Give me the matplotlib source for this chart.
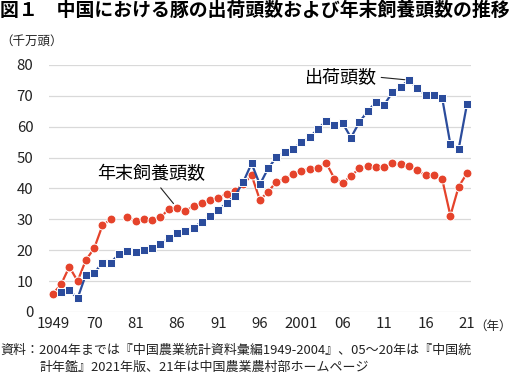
import numpy as np
import matplotlib
matplotlib.use("Agg")
import matplotlib.pyplot as plt

plt.rcParams['font.family'] = ['Noto Sans CJK JP', 'DejaVu Sans']

# カテゴリ（年）
years = ['1949', '1952', '1957', '1962', '1965', '1970', '1975', '1978', '1979', '1980'] + \
        [str(y) for y in range(1981, 2022)]

# 出荷頭数（千万頭）
shukka = [np.nan, 6.3, 7.0, 4.4, 12.1, 12.5, 16.0, 16.0, 18.7, 19.8,
          19.5, 20.0, 20.6, 22.0, 23.8, 25.7, 26.2, 27.3, 29.2, 31.0,
          33.0, 35.3, 37.7, 42.1, 48.1, 41.3, 46.5, 50.1, 51.9, 52.7,
          55.0, 56.6, 59.2, 61.9, 60.6, 61.1, 56.5, 61.4, 65.0, 67.9,
          67.1, 71.1, 73.0, 75.1, 72.4, 70.3, 70.3, 69.4, 54.3, 52.8, 67.3]

# 年末飼養頭数（千万頭）
shiyou = [5.8, 8.9, 14.6, 10.0, 16.8, 20.6, 28.0, 30.0, np.nan, 30.6,
          29.4, 30.0, 29.9, 30.6, 33.3, 33.7, 32.7, 34.3, 35.3, 36.2,
          36.9, 38.3, 39.2, 41.4, 44.3, 36.3, 38.9, 42.2, 43.0, 44.6,
          45.7, 46.4, 46.5, 48.3, 43.2, 41.8, 44.0, 46.5, 47.3, 46.8,
          47.0, 48.1, 47.8, 47.3, 46.0, 44.2, 44.2, 43.1, 31.2, 40.6, 44.9]

tick_years = ['1949', '1970', '1981', '1986', '1991', '1996', '2001', '2006', '2011', '2016', '2021']
tick_labels = ['1949', '70', '81', '86', '91', '96', '2001', '06', '11', '16', '21']

RED = '#e5432b'
BLUE = '#2b4c9c'

W, H = 511, 375
fig = plt.figure(figsize=(W / 100, H / 100), dpi=100)
ax = fig.add_axes([48.6 / W, 1 - 311.9 / H, (471.1 - 48.6) / W, (311.9 - 65) / H])

x = np.arange(len(years))
ax.plot(x, shiyou, color=RED, lw=1.6, marker='o', ms=6.4, mec='white', mew=0.7, zorder=3)
ax.plot(x, shukka, color=BLUE, lw=1.6, marker='s', ms=5.6, mec='white', mew=0.7, zorder=3)

ax.set_xlim(-0.5, len(years) - 0.5)
ax.set_ylim(0, 80)
ax.set_yticks(range(0, 81, 10))
ax.set_xticks([years.index(y) for y in tick_years])
ax.set_xticklabels(tick_labels)
ax.grid(axis='y', color='#d9d9d9', lw=0.9)
ax.set_axisbelow(True)
for s in ax.spines.values():
    s.set_visible(False)
ax.tick_params(length=0, labelsize=10.8, labelcolor='#222222')
ax.tick_params(axis='y', pad=11)
ax.tick_params(axis='x', pad=4)

# 系列ラベル
i14 = years.index('2014')
ax.annotate('出荷頭数', xy=(i14, shukka[i14]), xytext=(34.8, 76.1),
            ha='center', va='center', fontsize=13,
            arrowprops=dict(arrowstyle='-', color='#222222', lw=0.8, relpos=(1, 0.5),
                            shrinkA=1, shrinkB=3))
i86 = years.index('1986')
ax.annotate('年末飼養頭数', xy=(i86, shiyou[i86]), xytext=(11.9, 44.7),
            ha='center', va='center', fontsize=13,
            arrowprops=dict(arrowstyle='-', color='#222222', lw=0.8, relpos=(0.55, 0),
                            shrinkA=2, shrinkB=4))

fig.text(0, 1 - 10 / H, '図１　中国における豚の出荷頭数および年末飼養頭数の推移',
         fontsize=13.6, fontweight='bold', va='center', ha='left')
fig.text(0, 1 - 41 / H, '（千万頭）', fontsize=9, va='center', ha='left', color='#222222')
fig.text(474 / W, 1 - 326 / H, '（年）', fontsize=9, va='center', ha='left', color='#222222')
fig.text(0, 1 - 350 / H,
         '資料：2004年までは『中国農業統計資料彙編1949-2004』、05～20年は『中国統',
         fontsize=9.35, va='center', ha='left', color='#222222')
fig.text(40 / W, 1 - 367 / H,
         '計年鑑』2021年版、21年は中国農業農村部ホームページ',
         fontsize=9.35, va='center', ha='left', color='#222222')

fig.savefig('out.png', dpi=100)
